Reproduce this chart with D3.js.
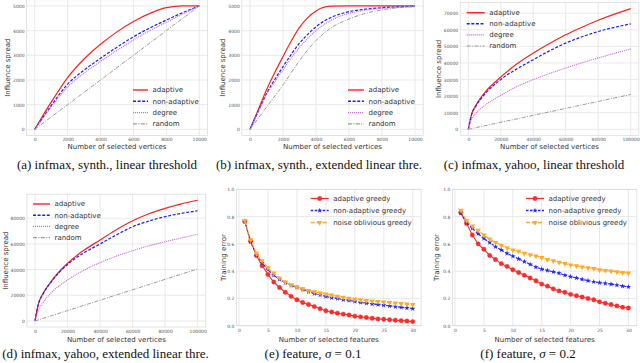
<!DOCTYPE html>
<html>
<head>
<meta charset="utf-8">
<script src="https://cdn.jsdelivr.net/npm/d3@7"></script>
<style>
  body { margin: 0; background: #fff; }
  svg { display: block; }
</style>
</head>
<body>
<svg width="640" height="363"></svg>
<script>
// ---- data ----
// (a) synthetic, linear threshold
const synthX = [0, 1000, 2000, 3000, 4000, 5000, 6000, 7000, 8000, 9000, 10000];
const aAdaptive = [0, 1100, 2100, 2850, 3450, 3950, 4370, 4700, 4930, 5000, 5000];
const aNonAdaptive = [0, 960, 1830, 2400, 2880, 3330, 3750, 4110, 4430, 4730, 5000];
const aDegree = [0, 900, 1720, 2280, 2750, 3200, 3620, 4000, 4340, 4680, 5000];
const aRandom = [0, 500, 1000, 1500, 2000, 2500, 3000, 3500, 4000, 4500, 5000];

// (b) synthetic, extended linear threshold
const synthXb = [0, 500, 1000, 1500, 2000, 2500, 3000, 3500, 4000, 4500, 5000, 6000, 7000, 8000, 9000, 10000];
const bAdaptive = [0, 800, 1600, 2300, 2950, 3580, 4130, 4530, 4800, 4950, 4990, 5000, 5000, 5000, 5000, 5000];
const bNonAdaptive = [0, 740, 1450, 2020, 2540, 3040, 3490, 3850, 4160, 4390, 4560, 4770, 4870, 4930, 4965, 4985];
const bDegree = [0, 710, 1400, 1920, 2420, 2900, 3320, 3690, 4000, 4250, 4450, 4700, 4830, 4900, 4950, 4980];
const bRandom = [0, 450, 900, 1350, 1800, 2300, 2780, 3220, 3600, 3900, 4150, 4470, 4700, 4840, 4930, 4970];

// (c), (d) yahoo
const yahooX = [0, 2000, 5000, 10000, 20000, 30000, 40000, 50000, 60000, 70000, 80000, 90000, 100000];
const cAdaptive = [0, 9000, 15000, 22000, 31500, 39500, 46000, 51800, 57000, 61600, 65800, 69500, 72800];
const cNonAdaptive = [0, 8800, 14500, 21000, 30000, 36500, 42000, 47300, 52000, 55800, 59000, 61500, 63600];
const cDegree = [0, 6000, 10000, 14300, 20500, 25800, 30000, 33600, 37000, 40100, 43000, 45800, 48500];
const cRandom = [0, 420, 1050, 2100, 4200, 6300, 8400, 10500, 12600, 14700, 16800, 18900, 21000];

const dAdaptive = [0, 13000, 21500, 31000, 44900, 55000, 63000, 71000, 78000, 83500, 87700, 91200, 94000];
const dNonAdaptive = [0, 12800, 21200, 30500, 44000, 53000, 59900, 67000, 73400, 77800, 81200, 83800, 85800];
const dDegree = [0, 8000, 14500, 22000, 31900, 39500, 45400, 50500, 54700, 58500, 61700, 64700, 67500];
const dRandom = [0, 810, 2025, 4050, 8100, 12150, 16200, 20250, 24300, 28350, 32400, 36450, 40500];

// (e), (f) feature selection
const featX = [1, 2, 3, 4, 5, 6, 7, 8, 9, 10, 11, 12, 13, 14, 15, 16, 17, 18, 19, 20, 21, 22, 23, 24, 25, 26, 27, 28, 29, 30];
const eAdaptive = [0.765, 0.62, 0.515, 0.44, 0.375, 0.32, 0.28, 0.245, 0.215, 0.19, 0.17, 0.155, 0.14, 0.125, 0.11, 0.1, 0.092, 0.085, 0.078, 0.07, 0.065, 0.06, 0.055, 0.05, 0.047, 0.044, 0.04, 0.037, 0.034, 0.03];
const eNonAdaptive = [0.765, 0.615, 0.52, 0.46, 0.41, 0.37, 0.34, 0.315, 0.295, 0.28, 0.265, 0.25, 0.235, 0.225, 0.215, 0.205, 0.2, 0.19, 0.185, 0.178, 0.17, 0.165, 0.16, 0.155, 0.15, 0.145, 0.14, 0.135, 0.13, 0.125];
const eOblivious = [0.77, 0.63, 0.53, 0.475, 0.425, 0.385, 0.35, 0.32, 0.3, 0.285, 0.27, 0.258, 0.248, 0.24, 0.232, 0.225, 0.215, 0.208, 0.2, 0.195, 0.19, 0.185, 0.18, 0.177, 0.173, 0.17, 0.165, 0.162, 0.158, 0.155];
const fAdaptive = [0.83, 0.75, 0.665, 0.6, 0.56, 0.515, 0.485, 0.455, 0.435, 0.41, 0.39, 0.37, 0.35, 0.33, 0.305, 0.29, 0.27, 0.255, 0.245, 0.23, 0.22, 0.21, 0.2, 0.19, 0.175, 0.165, 0.155, 0.145, 0.135, 0.13];
const fNonAdaptive = [0.825, 0.755, 0.715, 0.675, 0.64, 0.61, 0.58, 0.555, 0.53, 0.51, 0.49, 0.47, 0.45, 0.43, 0.415, 0.405, 0.395, 0.385, 0.37, 0.36, 0.35, 0.34, 0.33, 0.322, 0.315, 0.31, 0.305, 0.298, 0.29, 0.285];
const fOblivious = [0.845, 0.77, 0.73, 0.7, 0.665, 0.635, 0.61, 0.59, 0.57, 0.555, 0.545, 0.53, 0.52, 0.51, 0.5, 0.485, 0.475, 0.465, 0.455, 0.445, 0.438, 0.43, 0.425, 0.418, 0.41, 0.405, 0.4, 0.395, 0.39, 0.385];

// tick values
const synthXTicks = [0, 2000, 4000, 6000, 8000, 10000];
const synthYTicks = [0, 1000, 2000, 3000, 4000, 5000];
const yahooXTicks = [0, 20000, 40000, 60000, 80000, 100000];
const cYTicks = [0, 10000, 20000, 30000, 40000, 50000, 60000, 70000];
const dYTicks = [0, 20000, 40000, 60000, 80000];
const featXTicks = [0, 5, 10, 15, 20, 25, 30];
const featYTicks = [0, 0.2, 0.4, 0.6, 0.8, 1.0];

const infNames = ['adaptive', 'non-adaptive', 'degree', 'random'];
const featNames = ['adaptive greedy', 'non-adaptive greedy', 'noise oblivious greedy'];

// ---- styles ----
const styles = {
    'adaptive': {color: '#ff2020', dash: null, width: 1.2},
    'non-adaptive': {color: '#1c1cff', dash: '3,1.6', width: 1.2},
    'degree': {color: '#c46fd6', dash: '1.1,0.9', width: 1.1},
    'random': {color: '#9a9a9a', dash: '4,1.4,1,1.4', width: 1},
    'adaptive greedy': {color: '#ff2a2a', dash: null, width: 1.1, marker: 'circle'},
    'non-adaptive greedy': {color: '#2424ff', dash: '2.5,1.5', width: 1.1, marker: 'star'},
    'noise oblivious greedy': {color: '#ffaa22', dash: '4,2', width: 1.1, marker: 'tri'}
};

const svg = d3.select("svg");
const fontSans = "'DejaVu Sans', sans-serif";
const intFmt = d3.format('d');

const panels = [
    {box: [26.5, 207.5, -0.2, 135.5], xDom: [-500, 10500], yDom: [-250, 5250],
     xTicks: synthXTicks, yTicks: synthYTicks, xFmt: intFmt, yFmt: intFmt,
     xs: synthX, ys: [aAdaptive, aNonAdaptive, aDegree, aRandom], names: infNames,
     xLabel: 'Number of selected vertices', yLabel: 'Influence spread', yLabelX: 7.5, xLabelY: 147,
     legend: {x: 133, y: 90, dy: 11.3, len: 15},
     caption: {x: 107, y: 168.5, text: '(a) infmax, synth., linear threshold'}},
    {box: [241.8, 423.2, -0.2, 135.5], xDom: [-500, 10500], yDom: [-250, 5250],
     xTicks: synthXTicks, yTicks: synthYTicks, xFmt: intFmt, yFmt: intFmt,
     xs: synthXb, ys: [bAdaptive, bNonAdaptive, bDegree, bRandom], names: infNames,
     xLabel: 'Number of selected vertices', yLabel: 'Influence spread', yLabelX: 222.5, xLabelY: 147,
     legend: {x: 348, y: 90, dy: 11.3, len: 16},
     caption: {x: 319, y: 168.5, text: '(b) infmax, synth., extended linear thre.'}},
    {box: [460.2, 638.8, 2.6, 135.3], xDom: [-5000, 105000], yDom: [-3640, 76440],
     xTicks: yahooXTicks, yTicks: cYTicks, xFmt: intFmt, yFmt: intFmt,
     xs: yahooX, ys: [cAdaptive, cNonAdaptive, cDegree, cRandom], names: infNames,
     xLabel: 'Number of selected vertices', yLabel: 'Influence spread', yLabelX: 439, xLabelY: 147,
     legend: {x: 466.7, y: 12.7, dy: 11.1, len: 18},
     caption: {x: 534, y: 168.5, text: '(c) infmax, yahoo, linear threshold'}},
    {box: [26.9, 205.8, 194.2, 327], xDom: [-5000, 105000], yDom: [-4700, 98700],
     xTicks: yahooXTicks, yTicks: dYTicks, xFmt: intFmt, yFmt: intFmt,
     xs: yahooX, ys: [dAdaptive, dNonAdaptive, dDegree, dRandom], names: infNames,
     xLabel: 'Number of selected vertices', yLabel: 'Influence spread', yLabelX: 5.5, xLabelY: 339.5,
     legend: {x: 33, y: 204, dy: 11.2, len: 17},
     caption: {x: 105.5, y: 357.5, text: '(d) infmax, yahoo, extended linear thre.'}},
    {box: [236.4, 421.1, 189.3, 325.7], xDom: [-0.45, 31.45], yDom: [0, 1],
     xTicks: featXTicks, yTicks: featYTicks, xFmt: intFmt, yFmt: d3.format('.1f'),
     xs: featX, ys: [eAdaptive, eNonAdaptive, eOblivious], names: featNames,
     xLabel: 'Number of selected features', yLabel: 'Training error', yLabelX: 223.5, xLabelY: 339.5,
     legend: {x: 310.7, y: 198.5, dy: 12, len: 18},
     caption: {x: 313, y: 357.5, sigma: '0.1', label: '(e)'}},
    {box: [452.4, 636.8, 189.3, 325.7], xDom: [-0.45, 31.45], yDom: [0, 1],
     xTicks: featXTicks, yTicks: featYTicks, xFmt: intFmt, yFmt: d3.format('.1f'),
     xs: featX, ys: [fAdaptive, fNonAdaptive, fOblivious], names: featNames,
     xLabel: 'Number of selected features', yLabel: 'Training error', yLabelX: 437, xLabelY: 339.5,
     legend: {x: 526, y: 198.5, dy: 12, len: 18},
     caption: {x: 528, y: 357.5, sigma: '0.2', label: '(f)'}}
];

function drawMarker(g, kind, x, y, color) {
    if (kind === 'circle') {
        g.append('circle').attr('cx', x).attr('cy', y).attr('r', 2.2)
            .attr('fill', color).attr('stroke', color).attr('stroke-width', 0.4);
    } else if (kind === 'star') {
        g.append('path').attr('d', d3.symbol(d3.symbolStar, 9)())
            .attr('transform', `translate(${x},${y})`).attr('fill', color);
    } else if (kind === 'tri') {
        g.append('path').attr('d', d3.symbol(d3.symbolTriangle, 13)())
            .attr('transform', `translate(${x},${y}) rotate(180)`).attr('fill', color);
    }
}

function drawPanel(p, idx) {
    const [left, right, top, bottom] = p.box;
    const x = d3.scaleLinear().domain(p.xDom).range([left, right]);
    const y = d3.scaleLinear().domain(p.yDom).range([bottom, top]);
    const g = svg.append('g');

    // grid
    g.append('g').selectAll('line').data(p.xTicks).enter().append('line')
        .attr('x1', d => x(d)).attr('x2', d => x(d))
        .attr('y1', top).attr('y2', bottom)
        .attr('stroke', '#e6e6e6').attr('stroke-width', 0.9);
    g.append('g').selectAll('line').data(p.yTicks).enter().append('line')
        .attr('y1', d => y(d)).attr('y2', d => y(d))
        .attr('x1', left).attr('x2', right)
        .attr('stroke', '#e6e6e6').attr('stroke-width', 0.9);
    g.append('rect')
        .attr('x', left).attr('y', top)
        .attr('width', right - left).attr('height', bottom - top)
        .attr('fill', 'none').attr('stroke', '#d8d8d8').attr('stroke-width', 0.7);

    // tick labels
    const ax = g.append('g').attr('transform', `translate(0,${bottom})`)
        .call(d3.axisBottom(x).tickValues(p.xTicks).tickFormat(p.xFmt).tickSize(0).tickPadding(2.8));
    const ay = g.append('g').attr('transform', `translate(${left},0)`)
        .call(d3.axisLeft(y).tickValues(p.yTicks).tickFormat(p.yFmt).tickSize(0).tickPadding(2));
    [ax, ay].forEach(a => {
        a.select('.domain').remove();
        a.selectAll('text').attr('font-size', 4.5).attr('font-family', fontSans).attr('fill', '#555');
    });

    // axis labels
    g.append('text')
        .attr('x', (left + right) / 2).attr('y', p.xLabelY).attr('dy', '0.35em')
        .attr('text-anchor', 'middle').attr('font-size', 7).attr('font-family', fontSans)
        .attr('fill', '#333').text(p.xLabel);
    g.append('text')
        .attr('transform', `translate(${p.yLabelX},${(top + bottom) / 2}) rotate(-90)`)
        .attr('dy', '0.35em')
        .attr('text-anchor', 'middle').attr('font-size', 7).attr('font-family', fontSans)
        .attr('fill', '#333').text(p.yLabel);

    // series
    const clipId = 'clip-panel-' + idx;
    svg.append('clipPath').attr('id', clipId).append('rect')
        .attr('x', left).attr('y', top).attr('width', right - left).attr('height', bottom - top);
    const lines = g.append('g').attr('clip-path', `url(#${clipId})`);
    p.names.forEach((name, i) => {
        const st = styles[name];
        const pts = p.xs.map((xv, j) => [xv, p.ys[i][j]]);
        const line = d3.line()
            .x(d => x(d[0])).y(d => y(d[1]))
            .curve(st.marker ? d3.curveLinear : d3.curveMonotoneX);
        lines.append('path')
            .attr('d', line(pts))
            .attr('fill', 'none')
            .attr('stroke', st.color)
            .attr('stroke-width', st.width)
            .attr('stroke-dasharray', st.dash);
        if (st.marker) {
            pts.forEach(d => drawMarker(lines, st.marker, x(d[0]), y(d[1]), st.color));
        }
    });

    // legend
    const lg = g.append('g');
    p.names.forEach((name, i) => {
        const st = styles[name];
        const ly = p.legend.y + i * p.legend.dy;
        lg.append('line')
            .attr('x1', p.legend.x).attr('x2', p.legend.x + p.legend.len)
            .attr('y1', ly).attr('y2', ly)
            .attr('stroke', st.color).attr('stroke-width', st.width + 0.2)
            .attr('stroke-dasharray', st.dash);
        if (st.marker) drawMarker(lg, st.marker, p.legend.x + p.legend.len / 2, ly, st.color);
        lg.append('text')
            .attr('x', p.legend.x + p.legend.len + 4.5).attr('y', ly).attr('dy', '0.35em')
            .attr('font-size', 7).attr('font-family', fontSans).attr('fill', '#333')
            .text(name);
    });

    // caption
    const cap = svg.append('text')
        .attr('x', p.caption.x).attr('y', p.caption.y)
        .attr('text-anchor', 'middle')
        .attr('font-size', 13).attr('font-family', "'Liberation Serif', 'Times New Roman', serif")
        .attr('fill', '#111');
    if (p.caption.sigma) {
        cap.append('tspan').text(p.caption.label + ' feature, ');
        cap.append('tspan').attr('font-style', 'italic').text('σ');
        cap.append('tspan').text(' = ' + p.caption.sigma);
    } else {
        cap.text(p.caption.text);
    }
}

panels.forEach(drawPanel);
</script>
</body>
</html>
